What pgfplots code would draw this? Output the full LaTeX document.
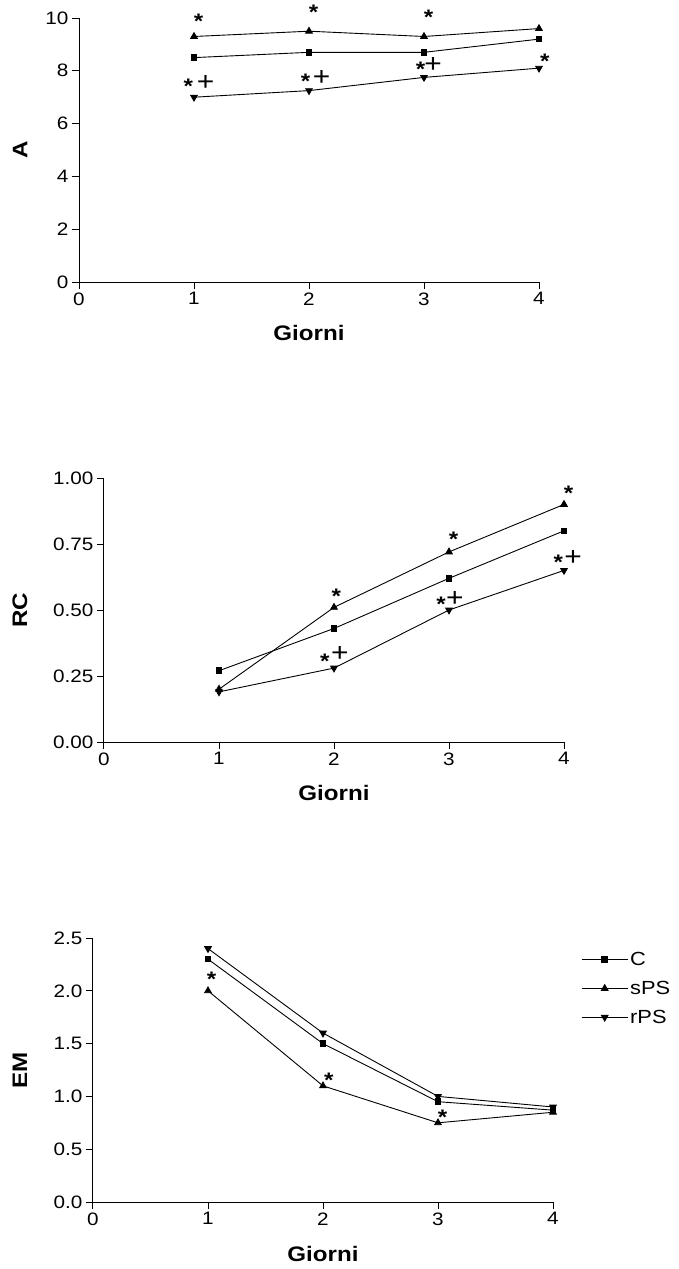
\documentclass[border=0pt]{standalone}
\usepackage{fontspec}
\setmainfont[FakeStretch=1.15]{Liberation Sans}
\usepackage{pgfplots}
\pgfplotsset{compat=1.18}
\newcommand{\Ast}{\raisebox{-0.5em}{\bfseries *}}
\newcommand{\Pls}{\fontsize{26}{26}\selectfont\raisebox{-0.33em}{+}}
\tikzset{ann/.style={anchor=base, inner sep=0pt, font=\fontsize{21}{21}\selectfont}}
\pgfplotsset{
 panel/.style={
  scale only axis, width=460pt, height=264pt,
  axis x line=bottom, axis y line=left, axis line style={-, line width=1pt},
  tick align=outside, major tick length=7pt, tick style={line width=1pt, black},
  xmin=0, xmax=4, xtick={0,1,2,3,4},
  ymin=0,
  clip=false,
  /pgf/number format/assume math mode=true,
  tick label style={font=\fontsize{18}{18}\selectfont},
  label style={font=\bfseries\fontsize{21}{22}\selectfont},
  xlabel={Giorni},
  xlabel style={at={(axis description cs:0.5,-0.195)}, anchor=center},
  every axis plot/.append style={black, line width=0.9pt},
 },
 sC/.style={mark=square*, mark size=2.8pt},
 sS/.style={mark=triangle*, mark size=3.8pt},
 sR/.style={mark=triangle*, mark size=3.8pt, mark options={rotate=180}},
}
\begin{document}
\begin{tikzpicture}[x=1pt,y=1pt]
\useasboundingbox (0,0) rectangle (678,-1269);
% Panel 1
\begin{axis}[panel, at={(79pt,-282pt)}, anchor=south west,
  ymax=10, ytick={0,2,4,6,8,10},
  ylabel={A}, ylabel style={at={(axis description cs:-0.128,0.5)}, anchor=center}]
\addplot[sC] coordinates {(1,8.5) (2,8.7) (3,8.7) (4,9.2)};
\addplot[sS] coordinates {(1,9.3) (2,9.5) (3,9.3) (4,9.6)};
\addplot[sR] coordinates {(1,7.0) (2,7.25) (3,7.75) (4,8.1)};
\node[ann] at (axis cs:1.04,10.01) {\Ast};
\node[ann] at (axis cs:2.04,10.35) {\Ast};
\node[ann] at (axis cs:3.04,10.16) {\Ast};
\node[ann] at (axis cs:0.95,7.52) {\Ast};
\node[ann] at (axis cs:1.10,7.58) {\Pls};
\node[ann] at (axis cs:1.97,7.72) {\Ast};
\node[ann] at (axis cs:2.11,7.76) {\Pls};
\node[ann] at (axis cs:2.97,8.17) {\Ast};
\node[ann] at (axis cs:3.08,8.25) {\Pls};
\node[ann] at (axis cs:4.05,8.48) {\Ast};
\end{axis}
% Panel 2
\begin{axis}[panel, at={(104pt,-742pt)}, anchor=south west,
  ymax=1, ytick={0,0.25,0.5,0.75,1},
  yticklabel style={/pgf/number format/.cd, fixed, fixed zerofill, precision=2},
  ylabel={RC}, ylabel style={at={(axis description cs:-0.183,0.5)}, anchor=center}]
\addplot[sC] coordinates {(1,0.27) (2,0.43) (3,0.62) (4,0.80)};
\addplot[sS] coordinates {(1,0.20) (2,0.51) (3,0.72) (4,0.90)};
\addplot[sR] coordinates {(1,0.19) (2,0.28) (3,0.50) (4,0.65)};
\node[ann] at (axis cs:2.02,0.565) {\Ast};
\node[ann] at (axis cs:3.04,0.782) {\Ast};
\node[ann] at (axis cs:4.04,0.956) {\Ast};
\node[ann] at (axis cs:1.92,0.320) {\Ast};
\node[ann] at (axis cs:2.05,0.337) {\Pls};
\node[ann] at (axis cs:2.93,0.534) {\Ast};
\node[ann] at (axis cs:3.05,0.547) {\Pls};
\node[ann] at (axis cs:3.95,0.695) {\Ast};
\node[ann] at (axis cs:4.08,0.700) {\Pls};
\end{axis}
% Panel 3
\begin{axis}[panel, at={(93pt,-1202pt)}, anchor=south west,
  ymax=2.5, ytick={0,0.5,1,1.5,2,2.5},
  yticklabel style={/pgf/number format/.cd, fixed, fixed zerofill, precision=1},
  ylabel={EM}, ylabel style={at={(axis description cs:-0.159,0.5)}, anchor=center},
  legend cell align=left,
  legend style={at={(1.061,0.954)}, anchor=north west, draw=none, fill=none,
    font=\fontsize{19}{20}\selectfont, row sep=10pt, inner sep=0pt},
  legend image code/.code={\draw[mark repeat=2, mark phase=2] plot coordinates {(0pt,0pt) (23pt,0pt) (46pt,0pt)};}]
\addplot[sC] coordinates {(1,2.30) (2,1.50) (3,0.95) (4,0.87)};
\addplot[sS] coordinates {(1,2.00) (2,1.10) (3,0.75) (4,0.85)};
\addplot[sR] coordinates {(1,2.40) (2,1.60) (3,1.00) (4,0.90)};
\legend{C, sPS, rPS}
\node[ann] at (axis cs:1.03,2.14) {\Ast};
\node[ann] at (axis cs:2.05,1.18) {\Ast};
\node[ann] at (axis cs:3.04,0.835) {\Ast};
\end{axis}
\end{tikzpicture}
\end{document}
